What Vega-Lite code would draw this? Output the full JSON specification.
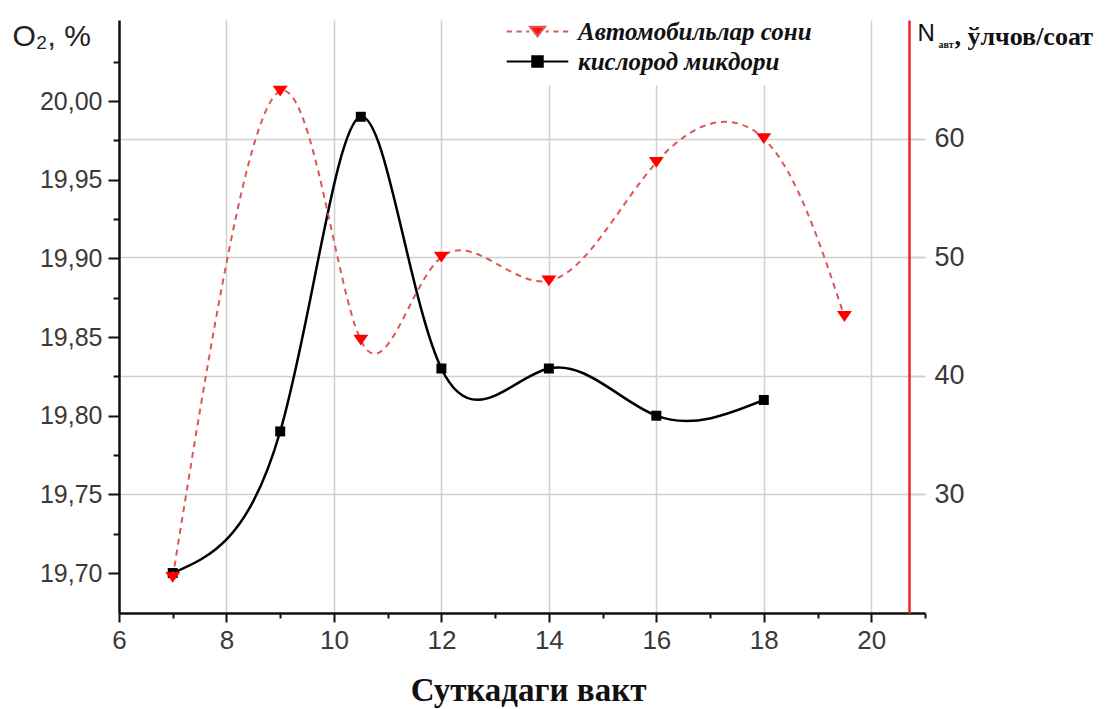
{
  "$schema": "https://vega.github.io/schema/vega-lite/v6.json",
  "width": 806,
  "height": 593,
  "autosize": {"type": "none"},
  "padding": {"left": 119, "top": 20, "right": 183, "bottom": 96},
  "background": "white",
  "config": {
    "view": {"stroke": null},
    "axis": {"labelFlush": false, "labelOverlap": false}
  },
  "data": {
    "values": [
      {"t": 7, "series": "кислород микдори", "value": 19.70},
      {"t": 9, "series": "кислород микдори", "value": 19.79},
      {"t": 10.5, "series": "кислород микдори", "value": 19.99},
      {"t": 12, "series": "кислород микдори", "value": 19.83},
      {"t": 14, "series": "кислород микдори", "value": 19.83},
      {"t": 16, "series": "кислород микдори", "value": 19.80},
      {"t": 18, "series": "кислород микдори", "value": 19.81},
      {"t": 7, "series": "Автомобильлар сони", "value": 23},
      {"t": 9, "series": "Автомобильлар сони", "value": 64},
      {"t": 10.5, "series": "Автомобильлар сони", "value": 43},
      {"t": 12, "series": "Автомобильлар сони", "value": 50},
      {"t": 14, "series": "Автомобильлар сони", "value": 48},
      {"t": 16, "series": "Автомобильлар сони", "value": 58},
      {"t": 18, "series": "Автомобильлар сони", "value": 60},
      {"t": 19.5, "series": "Автомобильлар сони", "value": 45}
    ]
  },
  "layer": [
    {
      "transform": [{"filter": "datum.series === 'кислород микдори'"}],
      "mark": {"type": "line", "interpolate": "natural", "color": "#000000", "strokeWidth": 2.5},
      "encoding": {
        "x": {
          "field": "t", "type": "quantitative",
          "scale": {"domain": [6, 21], "nice": false, "zero": false},
          "axis": {
            "orient": "bottom", "values": [6, 8, 10, 12, 14, 16, 18, 20], "format": "d",
            "grid": true, "gridColor": "#d0d0d0", "gridWidth": 1.5,
            "domainColor": "#111111", "domainWidth": 2.5,
            "tickColor": "#111111", "tickWidth": 2, "tickSize": 9,
            "labelFont": "Liberation Sans", "labelFontSize": 26, "labelColor": "#3a3a3a", "labelPadding": 5,
            "title": "Суткадаги вакт", "titleFont": "Liberation Serif", "titleFontSize": 33, "titleFontWeight": "bold",
            "titleColor": "#111111", "titleX": 409, "titleY": 87, "titleBaseline": "alphabetic", "titleAlign": "center"
          }
        },
        "y": {
          "field": "value", "type": "quantitative",
          "scale": {"domain": [19.6746, 20.0515], "nice": false, "zero": false},
          "axis": {
            "orient": "left", "values": [19.7, 19.75, 19.8, 19.85, 19.9, 19.95, 20],
            "labelExpr": "replace(format(datum.value, '.2f'), '.', ',')",
            "grid": false, "domainColor": "#111111", "domainWidth": 2.5,
            "tickColor": "#111111", "tickWidth": 2, "tickSize": 11,
            "labelFont": "Liberation Sans", "labelFontSize": 25, "labelColor": "#3a3a3a", "labelPadding": 6,
            "title": "O₂, %", "titleAngle": 0, "titleX": -107, "titleY": 25, "titleAlign": "left", "titleBaseline": "alphabetic",
            "titleFont": "Liberation Sans", "titleFontSize": 30, "titleFontWeight": "normal", "titleColor": "#222222"
          }
        }
      }
    },
    {
      "transform": [{"filter": "datum.series === 'кислород микдори'"}],
      "mark": {"type": "point", "shape": "square", "filled": true, "color": "#000000", "size": 100, "opacity": 1},
      "encoding": {
        "x": {
          "field": "t", "type": "quantitative",
          "scale": {"domain": [6, 21], "nice": false, "zero": false},
          "axis": {
            "orient": "top", "domain": false, "ticks": false, "labels": false, "grid": false,
            "title": ", ўлчов/соат", "titleX": 835, "titleY": 24, "titleAlign": "left", "titleBaseline": "alphabetic",
            "titleFont": "Liberation Serif", "titleFontSize": 26, "titleFontWeight": "bold", "titleColor": "#111111"
          }
        },
        "y": {
          "field": "value", "type": "quantitative",
          "scale": {"domain": [19.6746, 20.0515], "nice": false, "zero": false},
          "axis": {
            "orient": "left", "values": [19.725, 19.775, 19.825, 19.875, 19.925, 19.975, 20.025],
            "domain": false, "labels": false, "grid": false,
            "tickSize": 6, "tickWidth": 2, "tickColor": "#111111", "title": null
          }
        }
      }
    },
    {
      "transform": [{"filter": "datum.series === 'Автомобильлар сони'"}],
      "mark": {"type": "line", "interpolate": "natural", "color": "#e05555", "strokeWidth": 2, "strokeDash": [6, 5]},
      "encoding": {
        "x": {
          "field": "t", "type": "quantitative",
          "scale": {"domain": [6, 21], "nice": false, "zero": false},
          "axis": null
        },
        "y": {
          "field": "value", "type": "quantitative",
          "scale": {"domain": [20, 70], "nice": false, "zero": false},
          "axis": {
            "orient": "right", "offset": -16, "values": [30, 40, 50, 60],
            "grid": true, "gridColor": "#d0d0d0", "gridWidth": 1.5,
            "domainColor": "#e8262a", "domainWidth": 2.5,
            "tickColor": "#cfcfcf", "tickWidth": 1.5, "tickSize": 16,
            "labelFont": "Liberation Sans", "labelFontSize": 27, "labelColor": "#3a3a3a", "labelPadding": 9,
            "title": "N", "titleAngle": 0, "titleX": 8, "titleY": 20, "titleAlign": "left", "titleBaseline": "alphabetic",
            "titleFont": "Liberation Sans", "titleFontSize": 24, "titleFontWeight": "normal", "titleColor": "#111111"
          }
        }
      }
    },
    {
      "transform": [{"filter": "datum.series === 'Автомобильлар сони'"}],
      "mark": {"type": "point", "shape": "M-1,-0.72H1L0,0.72Z", "filled": true, "color": "#ff0000", "size": 225, "opacity": 1},
      "encoding": {
        "x": {
          "field": "t", "type": "quantitative",
          "scale": {"domain": [6, 21], "nice": false, "zero": false},
          "axis": {
            "orient": "bottom", "values": [7, 9, 11, 13, 15, 17, 19, 21],
            "domain": false, "labels": false, "grid": false,
            "tickSize": 5, "tickWidth": 2, "tickColor": "#111111", "title": null
          }
        },
        "y": {
          "field": "value", "type": "quantitative",
          "scale": {"domain": [20, 70], "nice": false, "zero": false},
          "axis": {
            "orient": "right", "offset": -16, "domain": false, "ticks": false, "labels": false, "grid": false,
            "title": "авт", "titleAngle": 0, "titleX": 29, "titleY": 27, "titleAlign": "left", "titleBaseline": "alphabetic",
            "titleFont": "Liberation Serif", "titleFontSize": 10, "titleFontWeight": "bold", "titleColor": "#111111"
          }
        }
      }
    },
    {
      "mark": {"type": "point", "filled": true, "opacity": 0},
      "encoding": {
        "x": {
          "field": "t", "type": "quantitative",
          "scale": {"domain": [6, 21], "nice": false, "zero": false},
          "axis": null
        },
        "y": {
          "field": "value", "type": "quantitative",
          "scale": {"domain": [20, 70], "nice": false, "zero": false},
          "axis": null
        },
        "fill": {
          "field": "series", "type": "nominal",
          "scale": {"domain": ["Автомобильлар сони", "кислород микдори"], "range": ["#ff1010", "#000000"]},
          "legend": {
            "orient": "none", "legendX": 396, "legendY": -11, "title": null, "direction": "vertical",
            "labelFont": "Liberation Serif", "labelFontSize": 25, "labelFontStyle": "italic", "labelFontWeight": "bold",
            "labelColor": "#111111", "labelOffset": 28, "labelLimit": 0, "rowPadding": 4, "padding": 10,
            "fillColor": "white", "symbolSize": 225, "symbolStrokeWidth": 2,
            "encode": {
              "symbols": {
                "update": {
                  "stroke": {"scale": "stroke", "field": "value"},
                  "strokeWidth": {"value": 2},
                  "opacity": {"value": 1}
                }
              }
            }
          }
        },
        "stroke": {
          "field": "series", "type": "nominal",
          "scale": {"domain": ["Автомобильлар сони", "кислород микдори"], "range": ["#e05555", "#000000"]}
        },
        "shape": {
          "field": "series", "type": "nominal",
          "scale": {
            "domain": ["Автомобильлар сони", "кислород микдори"],
            "range": [
              "M-4.1,0H-3.4M-2.8,0H-2.1M-1.5,0H-1.1M1.1,0H1.5M2.1,0H2.8M3.4,0H4.1M-1,-0.65H1L0,0.65Z",
              "M-4.1,0H4.1M-0.7,-0.7H0.7V0.7H-0.7Z"
            ]
          }
        }
      }
    }
  ],
  "resolve": {
    "scale": {"y": "independent"},
    "axis": {"x": "independent", "y": "independent"}
  }
}
